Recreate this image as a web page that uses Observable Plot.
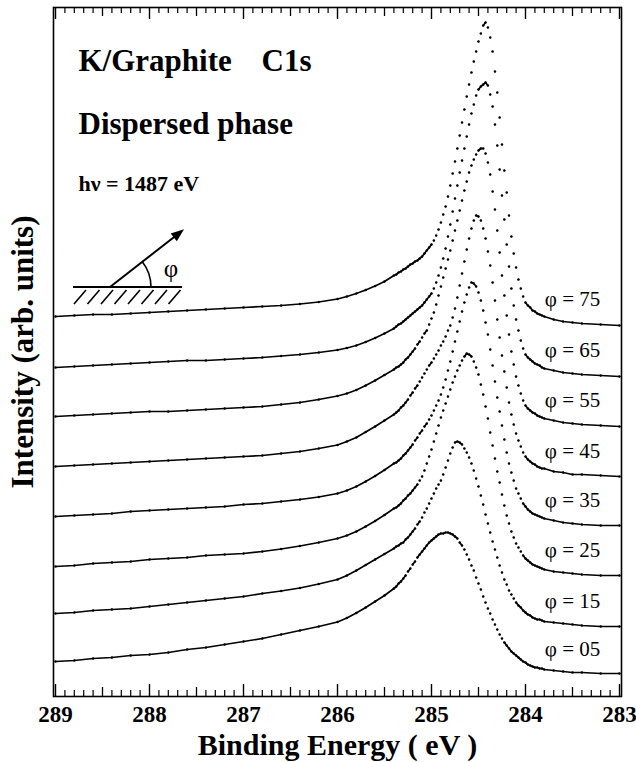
<!DOCTYPE html>
<html><head><meta charset="utf-8">
<script src="https://cdn.jsdelivr.net/npm/d3@7"></script>
<script src="https://cdn.jsdelivr.net/npm/@observablehq/plot@0.6"></script>
<style>html,body{margin:0;padding:0;background:#fff;} svg{display:block;}</style>
</head><body><div id="chart"></div>
<script>
// Binding energy grid (eV)
const energy = [289.0,288.8,288.6,288.4,288.2,288.0,287.8,287.6,287.4,287.2,287.0,286.8,286.6,286.4,286.2,286.0,285.9,285.8,285.7,285.6,285.5,
285.4,285.375,285.35,285.325,285.3,285.275,285.25,285.225,285.2,285.175,285.15,285.125,285.1,285.075,285.05,285.025,285.0,284.975,284.95,284.925,284.9,284.875,284.85,284.825,284.8,284.775,284.75,284.725,284.7,284.675,284.65,284.625,284.6,284.575,284.55,284.525,284.5,284.475,284.45,284.425,284.4,284.375,284.35,284.325,284.3,284.275,284.25,284.225,284.2,284.175,284.15,284.125,284.1,284.075,284.05,284.025,284.0,283.975,283.95,283.925,283.9,283.875,283.85,283.825,283.8,
283.7,283.6,283.5,283.4,283.2,283.0];

// Intensities (arb. units, stacked as drawn)
const phi75 = [380,381,382,382,383,384,385,386,387,388,389,390,391,392.5,394.5,397.5,400,403,406.5,410.5,415,
421,422,424,425,427,428,430,432,433,435,436,438,440,443,446,449,452,456,461,467,474,482,490,500,511,523,535,548,561,574,587,600,612,624,635,645,655,663,671,674,669,659,645,625,604,579,552,526,504,481,460,443,429,417,408,400,394,391,389,386,385,383,382,381,380,
377,375,374,373,372,371];
const phi65 = [329,330,331,332,333,334,335,336,336,337,338,339,340.5,342,344,346.5,348.5,351,354.5,358.5,363,
368,370,372,373,375,377,379,381,383,385,387,389,391,394,397,400,403,408,414,421,429,438,448,460,472,485,498,511,524,536,548,560,572,583,592,601,607,610,612,614,611,602,590,572,551,527,501,477,452,430,408,391,377,366,356,348,342,339,337,335,333,332,331,329,328,
326,324,323,322,321,320];
const phi55 = [280,281,282,283,284,285,285,286,287,288,289,290,292,294,297,300.5,303,306.5,311,316,321.5,
327,329,330,332,334,337,339,342,345,348,352,355,359,363,366,372,378,384,392,401,410,419,428,437,446,456,466,476,486,496,506,515,524,531,537,542,546,548,548,543,534,522,505,487,466,444,421,401,381,362,345,332,320,311,303,296,291,288,286,284,283,281,280,279,278,
276,274,273,272,271,270];
const phi45 = [230,231,232,233,234,235,236,237,238,239,240,241,243,245,248,251.5,255,259,264.5,270,276,
282,284,286,289,291,294,297,301,304,308,311,315,319,323,327,331,334,338,342,346,351,355,360,366,371,379,388,399,411,423,435,447,458,468,476,481,480,476,468,458,445,431,414,396,377,359,341,325,309,294,282,272,263,256,250,244,240,237,235,233,232,230,229,228,228,
225,224,222,222,221,220];
const phi35 = [180,181,182,183,185,186,187,188,189,190,192,193,195,197,199.5,203,206,210,215,220.5,226.5,
233,234,236,238,241,243,246,249,252,256,259,263,266,270,273,277,281,286,291,296,302,309,317,326,335,345,355,365,375,385,394,402,409,414,413,410,404,396,386,374,362,347,331,315,299,285,271,257,244,233,224,216,208,203,198,193,190,187,185,183,182,181,180,179,178,
176,174,173,172,171,171];
const phi25 = [130,131,133,134,135,137,138,139,141,142,143,145,147.5,150.5,154,158,161,165,170,175.5,181.5,
188,189,191,193,196,198,201,203,206,209,212,216,220,226,233,240,247,255,263,271,279,286,293,300,307,314,320,326,331,336,340,343,342,340,335,329,322,312,302,290,278,264,251,238,225,214,202,191,181,173,165,159,153,149,145,141,138,136,134,132,131,130,129,128,127,
125,124,123,122,121,121];
const phi15 = [83,84,86,87,88,90,92,94,96,98,100,103,105.5,108.5,112.5,117,121,126,131.5,137,142.5,
148,150,151,153,154,157,159,162,165,168,172,175,179,184,188,193,198,203,208,212,216,222,229,236,243,249,254,255,254,252,248,244,239,233,226,218,210,201,192,182,173,164,155,147,139,131,124,117,112,106,102,98,94,91,89,86,84,82,81,79,78,77,77,76,75,
74,73,72,71,70,70];
const phi05 = [35,36,38,39,41,42,44,47,49,52,55,58,62,66,70,74.5,78.5,83.5,89,95,101,
108,110,113,115,118,121,125,128,132,135,139,142,145,148,151,154,156,158,160,162,163,163,164,164,163,162,160,158,154,151,147,142,137,131,126,119,113,107,100,94,88,83,77,72,67,62,58,54,51,48,45,43,41,39,37,35,34,32,31,30,29,29,28,28,27,
26,25,24,24,23,23];

const seriesLabels = ["φ = 75","φ = 65","φ = 55","φ = 45","φ = 35","φ = 25","φ = 15","φ = 05"];
const seriesValues = [phi75, phi65, phi55, phi45, phi35, phi25, phi15, phi05];

// axis tick labels
const xTickLabels = [289, 288, 287, 286, 285, 284, 283];

// ---- build table ----
const W = 636, H = 762, mL = 53, mR = 15, mT = 7, mB = 66;
const xDomain = [289.0213, 282.9787];
const pxPerEV = (W - mL - mR) / (xDomain[0] - xDomain[1]);
const yDomain = [0, 689];
const pxPerUnit = (H - mT - mB) / (yDomain[1] - yDomain[0]);

const points = [];
const labelRows = [];
seriesValues.forEach((vals, s) => {
  const n = Math.min(vals.length, energy.length);
  let seg = 0;
  for (let i = 0; i < n; i++) {
    if (i > 0) {
      const dx = Math.abs(energy[i] - energy[i-1]) * pxPerEV;
      const dy = Math.abs(vals[i] - vals[i-1]) * pxPerUnit;
      if (dy > 1.3 * dx) seg++;
    }
    points.push({E: energy[i], v: vals[i], series: seriesLabels[s], seg: seriesLabels[s] + "-" + seg});
  }
  const li = energy.indexOf(283.5);
  labelRows.push({E: 283.5, v: vals[li], text: seriesLabels[s]});
});

// tick positions
const majorTicks = xTickLabels;
const halfTicks = d3.range(2835, 2890, 10).map(i => i / 10);
const minorTicks = d3.range(2830, 2891).filter(i => i % 5 !== 0).map(i => i / 10);

const serif = "Liberation Serif, Times New Roman, serif";

function inset(index, scales, values, dims) {
  const g = d3.create("svg:g").attr("stroke", "black").attr("fill", "none");
  g.append("line").attr("x1", 73).attr("x2", 182).attr("y1", 287).attr("y2", 287).attr("stroke-width", 2);
  for (let i = 0; i < 8; i++) {
    g.append("line").attr("x1", 74 + 13.5 * i).attr("y1", 304).attr("x2", 86 + 13.5 * i).attr("y2", 290).attr("stroke-width", 1.6);
  }
  g.append("line").attr("x1", 110).attr("y1", 287).attr("x2", 174.5).attr("y2", 236.7).attr("stroke-width", 2);
  g.append("path").attr("d", "M184,229.3 L176.8,241.2 L170.7,233.4 Z").attr("fill", "black").attr("stroke", "none");
  g.append("path").attr("d", "M151,287 A41,41 0 0 0 142.3,261.7").attr("stroke-width", 1.6);
  g.append("text").attr("x", 171).attr("y", 268).attr("text-anchor", "middle").attr("dominant-baseline", "central")
    .attr("font-family", serif).attr("font-size", 25).attr("font-weight", "normal").attr("fill", "black").attr("stroke", "none").text("φ");
  return g.node();
}

const chart = Plot.plot({
  width: W, height: H,
  marginLeft: mL, marginRight: mR, marginTop: mT, marginBottom: mB,
  style: {fontFamily: serif, fontSize: "23px", fontWeight: "bold", background: "white", color: "black", overflow: "visible"},
  x: {domain: xDomain, ticks: xTickLabels, tickFormat: d => String(d), tickSize: 0, tickPadding: 9, label: null},
  y: {domain: yDomain, axis: null},
  marks: [
    Plot.ruleX(majorTicks, {x: d => d, insetTop: 677, stroke: "black", strokeWidth: 1.4}),
    Plot.ruleX(majorTicks, {x: d => d, insetBottom: 677, stroke: "black", strokeWidth: 1.4}),
    Plot.ruleX(halfTicks, {x: d => d, insetTop: 680, stroke: "black", strokeWidth: 1.3}),
    Plot.ruleX(halfTicks, {x: d => d, insetBottom: 680, stroke: "black", strokeWidth: 1.3}),
    Plot.ruleX(minorTicks, {x: d => d, insetTop: 683, stroke: "black", strokeWidth: 1.2}),
    Plot.ruleX(minorTicks, {x: d => d, insetBottom: 683, stroke: "black", strokeWidth: 1.2}),
    Plot.line(points, {x: "E", y: "v", z: "seg", stroke: "black", strokeWidth: 1.7}),
    Plot.dot(points, {x: "E", y: "v", r: 1.25, fill: "black", stroke: null}),
    Plot.text(labelRows, {x: "E", y: "v", text: "text", dy: -23, fontSize: 21, fontWeight: "normal", fontFamily: serif, lineAnchor: "middle", textAnchor: "middle", fill: "black"}),
    Plot.text(["K/Graphite"], {text: d => d, frameAnchor: "top-left", dx: 25, dy: 54, textAnchor: "start", lineAnchor: "middle", fontSize: 31, fontWeight: "bold", fontFamily: serif, fill: "black"}),
    Plot.text(["C1s"], {text: d => d, frameAnchor: "top-left", dx: 208, dy: 54, textAnchor: "start", lineAnchor: "middle", fontSize: 31, fontWeight: "bold", fontFamily: serif, fill: "black"}),
    Plot.text(["Dispersed phase"], {text: d => d, frameAnchor: "top-left", dx: 25, dy: 117, textAnchor: "start", lineAnchor: "middle", fontSize: 31, fontWeight: "bold", fontFamily: serif, fill: "black"}),
    Plot.text(["hν = 1487 eV"], {text: d => d, frameAnchor: "top-left", dx: 25, dy: 176, textAnchor: "start", lineAnchor: "middle", fontSize: 22, fontWeight: "bold", fontFamily: serif, fill: "black"}),
    Plot.text(["Binding Energy ( eV )"], {text: d => d, frameAnchor: "bottom", dy: 49, textAnchor: "middle", lineAnchor: "middle", fontSize: 30, fontWeight: "bold", fontFamily: serif, fill: "black"}),
    Plot.text(["Intensity (arb. units)"], {text: d => d, frameAnchor: "left", dx: -30.5, rotate: -90, textAnchor: "middle", lineAnchor: "middle", fontSize: 31, fontWeight: "bold", fontFamily: serif, fill: "black"}),
    inset,
    Plot.frame({stroke: "black", strokeWidth: 1.6})
  ]
});
document.getElementById("chart").appendChild(chart);
</script>
</body></html>
